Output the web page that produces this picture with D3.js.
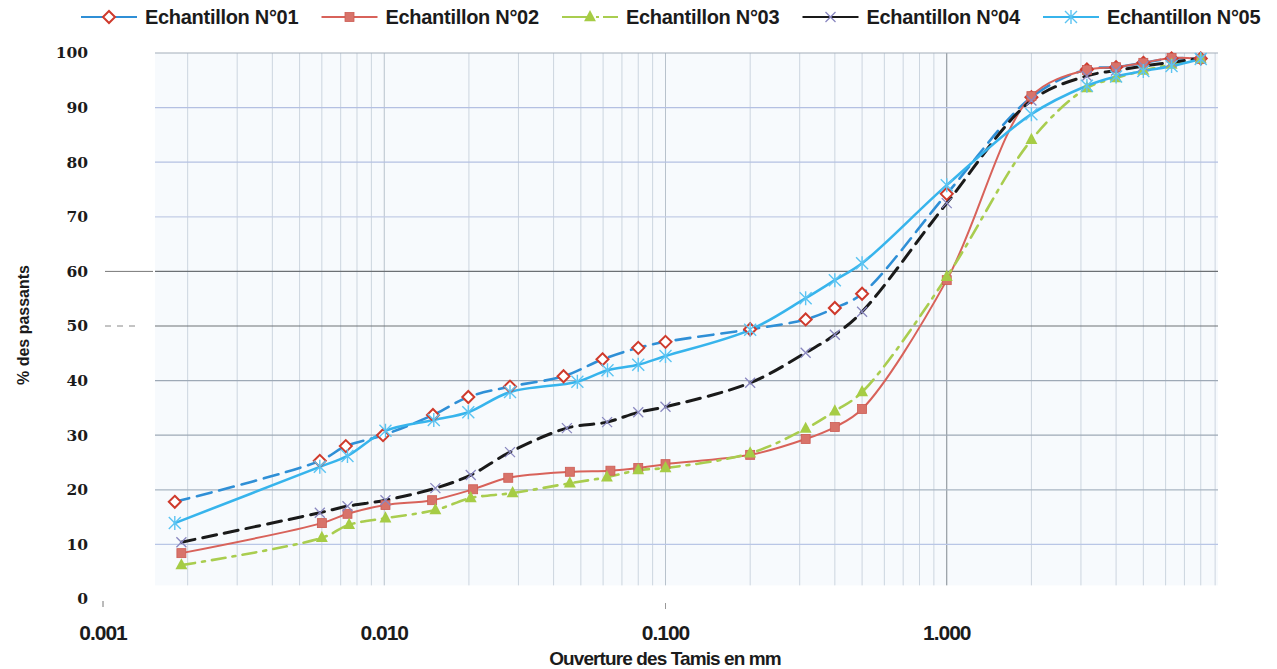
<!DOCTYPE html>
<html>
<head>
<meta charset="utf-8">
<script src="https://cdn.jsdelivr.net/npm/d3@7/dist/d3.min.js"></script>
<style>
  html, body { margin: 0; padding: 0; background: #ffffff; }
  svg { display: block; }
  text { font-family: "Liberation Sans", Arial, sans-serif; font-weight: bold; fill: #1b1b1b; }
</style>
</head>
<body>
<script>
// ---------------- data ----------------
const seriesNames = ["Echantillon N°01", "Echantillon N°02", "Echantillon N°03", "Echantillon N°04", "Echantillon N°05"];

// sieve openings (mm), common to every sample
const sieves = [0.08, 0.1, 0.2, 0.315, 0.4, 0.5, 1, 2, 3.15, 4, 5, 6.3, 8];

// sedimentometry diameters (mm), per sample
const sed01 = [0.0018, 0.0059, 0.0073, 0.0099, 0.0149, 0.0199, 0.028, 0.0434, 0.0597];
const sed02 = [0.0019, 0.0060, 0.0074, 0.0101, 0.0148, 0.0207, 0.0276, 0.0457, 0.0637];
const sed03 = [0.0019, 0.0060, 0.0075, 0.0101, 0.0152, 0.0203, 0.0286, 0.0457, 0.0619];
const sed04 = [0.0019, 0.0059, 0.0074, 0.0101, 0.0152, 0.0203, 0.0280, 0.0446, 0.0620];
const sed05 = [0.0018, 0.0059, 0.0074, 0.0101, 0.0150, 0.0199, 0.0280, 0.0486, 0.0622];

// % passing — sedimentometry part
const pSed01 = [17.8, 25.3, 28.0, 30.0, 33.7, 37.0, 38.9, 40.8, 43.9];
const pSed02 = [8.4, 13.9, 15.6, 17.2, 18.1, 20.1, 22.2, 23.3, 23.5];
const pSed03 = [6.2, 11.2, 13.6, 14.8, 16.3, 18.5, 19.4, 21.2, 22.3];
const pSed04 = [10.4, 15.8, 17.0, 18.1, 20.3, 22.7, 26.9, 31.3, 32.4];
const pSed05 = [13.9, 24.2, 26.2, 30.8, 32.8, 34.2, 37.9, 39.8, 41.9];

// % passing — sieve part
const pSie01 = [46.0, 47.1, 49.4, 51.2, 53.3, 55.9, 74.2, 91.9, 97.0, 97.4, 98.2, 99.0, 99.0];
const pSie02 = [24.0, 24.7, 26.4, 29.3, 31.5, 34.8, 58.4, 92.1, 96.9, 97.4, 98.2, 99.1, 98.9];
const pSie03 = [23.6, 24.0, 26.7, 31.2, 34.4, 37.9, 59.0, 84.1, 93.6, 95.4, 96.8, 97.9, 98.9];
const pSie04 = [34.2, 35.2, 39.6, 45.1, 48.4, 52.6, 72.5, 91.3, 95.8, 96.8, 97.6, 98.3, 99.0];
const pSie05 = [42.9, 44.5, 49.3, 55.1, 58.4, 61.5, 75.8, 88.8, 94.0, 95.7, 96.7, 97.6, 98.9];

const yTicks = [0, 10, 20, 30, 40, 50, 60, 70, 80, 90, 100];
const xTickValues = [0.001, 0.01, 0.1, 1];
const xTickLabels = ["0.001", "0.010", "0.100", "1.000"];
const xTitle = "Ouverture des Tamis en mm";
const yTitle = "% des passants";

// ---------------- layout ----------------
const W = 1277, H = 669;
const svg = d3.select("body").append("svg").attr("width", W).attr("height", H);

const x = d3.scaleLog().domain([0.001, 10]).range([103, 1228]);
const y = d3.scaleLinear().domain([0, 100]).range([599, 53]);

const plotL = 155, plotR = 1218, plotT = y(100), gridBottom = y(2.5);

// plot background
svg.append("rect").attr("x", plotL).attr("y", plotT).attr("width", plotR - plotL)
  .attr("height", gridBottom - plotT).attr("fill", "#f7fafd");

// vertical grid (log minor lines)
const vLines = [];
for (let e = -3; e <= 0; e++) for (let k = 1; k <= 9; k++) vLines.push(k * Math.pow(10, e));
const vg = svg.append("g");
vLines.filter(v => x(v) >= plotL - 0.5 && x(v) <= plotR + 0.5).forEach(v => {
  vg.append("line").attr("x1", x(v)).attr("x2", x(v)).attr("y1", plotT).attr("y2", gridBottom)
    .attr("stroke", Math.abs(v - 1) < 1e-9 ? "#80888f" : (Math.abs(v - 0.1) < 1e-9 || Math.abs(v - 0.01) < 1e-9 ? "#b8c2cc" : "#ccd5df"))
    .attr("stroke-width", 1);
});

// horizontal grid
const hColor = {10: "#b9c6e6", 20: "#a9b5c2", 30: "#9ea9b6", 40: "#9ea9b6", 50: "#6f7376", 60: "#6c7074", 70: "#c3cde6", 80: "#b4c0e2", 90: "#b4c0e2", 100: "#a4aeba"};
const hg = svg.append("g");
yTicks.filter(t => t > 0).forEach(t => {
  hg.append("line").attr("x1", plotL).attr("x2", plotR).attr("y1", y(t)).attr("y2", y(t))
    .attr("stroke", hColor[t]).attr("stroke-width", 1.2);
});
// scan artefacts to the left of the grid
svg.append("line").attr("x1", 105).attr("x2", 153).attr("y1", y(60)).attr("y2", y(60)).attr("stroke", "#777").attr("stroke-width", 1);
svg.append("line").attr("x1", 105).attr("x2", 140).attr("y1", y(50)).attr("y2", y(50)).attr("stroke", "#888").attr("stroke-width", 1).attr("stroke-dasharray", "6,6");
svg.append("line").attr("x1", x(0.001)).attr("x2", x(0.001)).attr("y1", 601).attr("y2", 607).attr("stroke", "#777");
svg.append("line").attr("x1", x(0.1)).attr("x2", x(0.1)).attr("y1", 603).attr("y2", 609).attr("stroke", "#999");

// y axis labels
svg.append("g").selectAll("text").data(yTicks).join("text")
  .attr("x", 88).attr("y", d => y(d)).attr("dy", "0.35em").attr("text-anchor", "end")
  .style("font-family", "'DejaVu Serif', serif").style("font-size", "15.5px").text(d => d);

// x axis labels
svg.append("g").selectAll("text").data(xTickValues).join("text")
  .attr("x", d => x(d)).attr("y", 640).attr("text-anchor", "middle")
  .style("font-size", "21px").style("letter-spacing", "-1px").text((d, i) => xTickLabels[i]);

// axis titles
svg.append("text").attr("x", 665).attr("y", 665).attr("text-anchor", "middle")
  .style("font-size", "19px").style("letter-spacing", "-0.9px").text(xTitle);
svg.append("text").attr("transform", "translate(29,325) rotate(-90)").attr("text-anchor", "middle")
  .style("font-size", "16px").text(yTitle);

// ---------------- series ----------------
const styles = [
  {color: "#2f8fd6", width: 2.6, dash: "15,8", marker: "diamond"},
  {color: "#d8625a", width: 2.0, dash: null, marker: "square"},
  {color: "#a9cd4f", width: 2.6, dash: "14,7,3,7", marker: "triangle"},
  {color: "#1a1a1a", width: 3.0, dash: "14,8", marker: "cross"},
  {color: "#37b4ec", width: 2.6, dash: null, marker: "star"}
];
const sedArr = [sed01, sed02, sed03, sed04, sed05];
const pSedArr = [pSed01, pSed02, pSed03, pSed04, pSed05];
const pSieArr = [pSie01, pSie02, pSie03, pSie04, pSie05];

const series = seriesNames.map((name, i) => {
  const pts = sedArr[i].map((d, j) => ({d, p: pSedArr[i][j]}))
    .concat(sieves.map((d, j) => ({d, p: pSieArr[i][j]})));
  return {name, pts, style: styles[i]};
});

const line = d3.line().x(p => x(p.d)).y(p => y(p.p)).curve(d3.curveCatmullRom.alpha(0.5));

function drawMarker(g, type, cx, cy) {
  if (type === "diamond") {
    const r = 6;
    g.append("path").attr("d", `M${cx},${cy - r}L${cx + r},${cy}L${cx},${cy + r}L${cx - r},${cy}Z`)
      .attr("fill", "#ffffff").attr("stroke", "#cf3a2c").attr("stroke-width", 2);
  } else if (type === "square") {
    const s = 9;
    g.append("rect").attr("x", cx - s / 2).attr("y", cy - s / 2).attr("width", s).attr("height", s)
      .attr("fill", "#d8736a").attr("stroke", "#cc5c54").attr("stroke-width", 0.8);
  } else if (type === "triangle") {
    const r = 7;
    g.append("path").attr("d", `M${cx},${cy - r}L${cx + r * 0.85},${cy + r * 0.6}L${cx - r * 0.85},${cy + r * 0.6}Z`)
      .attr("fill", "#a6cc45");
  } else if (type === "cross") {
    const r = 5;
    g.append("path").attr("d", `M${cx - r},${cy - r}L${cx + r},${cy + r}M${cx - r},${cy + r}L${cx + r},${cy - r}`)
      .attr("stroke", "#8a88c0").attr("stroke-width", 1.3).attr("fill", "none");
  } else if (type === "star") {
    const r = 6;
    g.append("path").attr("d", `M${cx - r},${cy - r}L${cx + r},${cy + r}M${cx - r},${cy + r}L${cx + r},${cy - r}M${cx},${cy - r - 1}L${cx},${cy + r + 1}`)
      .attr("stroke", "#5cc4f2").attr("stroke-width", 1.4).attr("fill", "none");
  }
}

const sg = svg.append("g");
series.forEach(s => {
  sg.append("path").datum(s.pts).attr("d", line).attr("fill", "none")
    .attr("stroke", s.style.color).attr("stroke-width", s.style.width)
    .attr("stroke-dasharray", s.style.dash).attr("stroke-linecap", "round");
});
series.forEach(s => {
  const mg = sg.append("g");
  s.pts.forEach(p => drawMarker(mg, s.style.marker, x(p.d), y(p.p)));
});

// ---------------- legend ----------------
const lg = svg.append("g");
series.forEach((s, i) => {
  const tx = 145 + i * 240.5, ly = 17;
  lg.append("line").attr("x1", tx - 64).attr("x2", tx - 8).attr("y1", ly).attr("y2", ly)
    .attr("stroke", s.style.color).attr("stroke-width", 2)
    .attr("stroke-dasharray", s.style.marker === "triangle" ? "30,4,3,4" : null);
  drawMarker(lg, s.style.marker, tx - 36, ly);
  lg.append("text").attr("x", tx).attr("y", ly).attr("dy", "0.36em")
    .style("font-size", "20px").style("letter-spacing", "-0.3px").text(s.name);
});
</script>
</body>
</html>
